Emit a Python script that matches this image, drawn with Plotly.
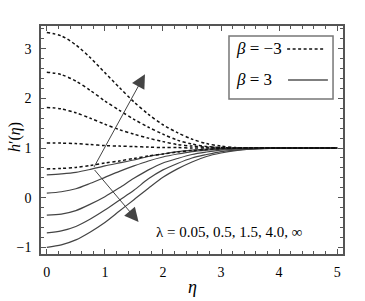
import plotly.graph_objects as go

eta = [0, 0.25, 0.5, 0.75, 1.0, 1.25, 1.5, 1.75, 2.0, 2.25, 2.5, 2.75, 3.0, 3.25, 3.5, 4.0, 4.5, 5.0]

# beta = -3 (dashed), lambda = 0.05, 0.5, 1.5, 4.0, inf
dash_l005 = [0.58, 0.59, 0.61, 0.65, 0.70, 0.74, 0.79, 0.84, 0.88, 0.92, 0.95, 0.97, 0.99, 1.00, 1.00, 1.00, 1.00, 1.00]
dash_l05 = [1.10, 1.10, 1.09, 1.07, 1.05, 1.04, 1.03, 1.02, 1.01, 1.01, 1.00, 1.00, 1.00, 1.00, 1.00, 1.00, 1.00, 1.00]
dash_l15 = [1.82, 1.79, 1.71, 1.60, 1.48, 1.37, 1.28, 1.20, 1.13, 1.07, 1.04, 1.02, 1.01, 1.00, 1.00, 1.00, 1.00, 1.00]
dash_l40 = [2.53, 2.48, 2.35, 2.16, 1.95, 1.76, 1.58, 1.42, 1.28, 1.16, 1.08, 1.03, 1.01, 1.00, 1.00, 1.00, 1.00, 1.00]
dash_linf = [3.33, 3.26, 3.08, 2.82, 2.52, 2.22, 1.93, 1.68, 1.47, 1.31, 1.18, 1.09, 1.04, 1.01, 1.00, 1.00, 1.00, 1.00]

# beta = 3 (solid)
sol_l005 = [0.46, 0.48, 0.51, 0.57, 0.64, 0.70, 0.76, 0.83, 0.88, 0.93, 0.96, 0.98, 0.99, 1.00, 1.00, 1.00, 1.00, 1.00]
sol_l05 = [0.09, 0.12, 0.18, 0.29, 0.41, 0.53, 0.64, 0.74, 0.82, 0.88, 0.93, 0.96, 0.98, 0.99, 1.00, 1.00, 1.00, 1.00]
sol_l15 = [-0.35, -0.33, -0.26, -0.13, 0.02, 0.20, 0.39, 0.56, 0.70, 0.79, 0.87, 0.92, 0.96, 0.98, 0.99, 1.00, 1.00, 1.00]
sol_l40 = [-0.71, -0.67, -0.58, -0.43, -0.25, -0.05, 0.15, 0.38, 0.56, 0.69, 0.80, 0.87, 0.93, 0.96, 0.98, 1.00, 1.00, 1.00]
sol_linf = [-1.00, -0.95, -0.85, -0.69, -0.50, -0.27, -0.04, 0.19, 0.41, 0.58, 0.72, 0.83, 0.90, 0.95, 0.98, 1.00, 1.00, 1.00]

dashed_series = [dash_l005, dash_l05, dash_l15, dash_l40, dash_linf]
solid_series = [sol_l005, sol_l05, sol_l15, sol_l40, sol_linf]

x_ticks = [0, 1, 2, 3, 4, 5]
y_ticks = [-1, 0, 1, 2, 3]

FONT = "Liberation Serif"

fig = go.Figure()
for s in solid_series:
    fig.add_trace(go.Scatter(x=eta, y=s, mode="lines", line=dict(color="#444444", width=1.2, shape="spline", smoothing=0.8), showlegend=False))
for s in dashed_series:
    fig.add_trace(go.Scatter(x=eta, y=s, mode="lines", line=dict(color="#111111", width=1.5, dash="3px,2.5px", shape="spline", smoothing=0.8), showlegend=False))

axis_common = dict(
    showgrid=False, zeroline=False, showline=True, linecolor="#555555", linewidth=1.5,
    mirror="allticks", ticks="inside", ticklen=5, tickwidth=1, tickcolor="#555555",
    tickfont=dict(family=FONT, size=14, color="black"), automargin=False,
    minor=dict(ticks="inside", ticklen=3, tickwidth=1, tickcolor="#555555", dtick=0.2),
)

fig.update_xaxes(range=[-0.1, 5.1], tickvals=x_ticks, ticktext=[str(v) for v in x_ticks],
                 ticklabelstandoff=4, **axis_common)
fig.update_yaxes(range=[-1.135, 3.46], tickvals=y_ticks, ticktext=["−1" if v == -1 else str(v) for v in y_ticks],
                 ticklabelstandoff=5, **axis_common)

# axis titles
fig.add_annotation(x=0.5, y=-0.145, xref="paper", yref="paper", xanchor="center", yanchor="middle",
                   showarrow=False, text="<i>η</i>", font=dict(family=FONT, size=18, color="black"))
fig.add_annotation(x=-0.086, y=0.513, xref="paper", yref="paper", xanchor="center", yanchor="middle",
                   showarrow=False, textangle=-90,
                   text="<i>h</i>′(<i>η</i>)", font=dict(family=FONT, size=16, color="black"))

# arrows
fig.add_annotation(x=1.69, y=2.49, ax=0.80, ay=0.59, xref="x", yref="y", axref="x", ayref="y",
                   showarrow=True, arrowhead=2, arrowsize=2.8, arrowwidth=1, arrowcolor="#444444", text="")
fig.add_annotation(x=1.58, y=-0.49, ax=0.80, ay=0.59, xref="x", yref="y", axref="x", ayref="y",
                   showarrow=True, arrowhead=2, arrowsize=2.8, arrowwidth=1, arrowcolor="#444444", text="")
fig.add_annotation(x=3.13, y=-0.69, xref="x", yref="y", showarrow=False,
                   text="λ = 0.05, 0.5, 1.5, 4.0, ∞", font=dict(family=FONT, size=15, color="black"))

# legend box
fig.add_shape(type="rect", xref="paper", yref="paper", x0=0.6225, x1=0.967, y0=0.680, y1=0.956,
              line=dict(color="#777777", width=1.5), fillcolor="white")
fig.add_annotation(x=0.638, y=0.899, xref="paper", yref="paper", xanchor="left", yanchor="middle",
                   yshift=1, showarrow=False,
                   text="<i>β</i> = −3", font=dict(family=FONT, size=17, color="black"))
fig.add_annotation(x=0.638, y=0.763, xref="paper", yref="paper", xanchor="left", yanchor="middle",
                   yshift=1, showarrow=False,
                   text="<i>β</i> = 3", font=dict(family=FONT, size=17, color="black"))
fig.add_shape(type="line", xref="paper", yref="paper", x0=0.815, x1=0.94, y0=0.899, y1=0.899,
              line=dict(color="#111111", width=1.5, dash="3px,2.5px"))
fig.add_shape(type="line", xref="paper", yref="paper", x0=0.818, x1=0.95, y0=0.763, y1=0.763,
              line=dict(color="#555555", width=1.5))

fig.update_layout(width=365, height=301, margin=dict(l=41, r=22, t=26, b=47),
                  paper_bgcolor="white", plot_bgcolor="white", showlegend=False)

fig.write_html("out.html")
